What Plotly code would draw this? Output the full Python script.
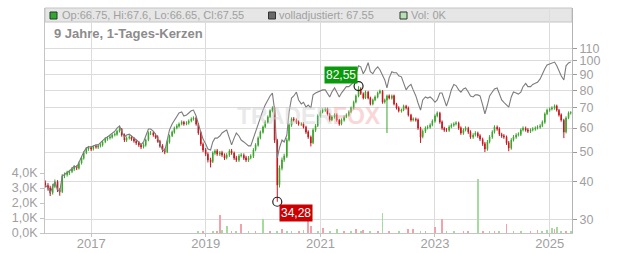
import numpy as np
import pandas as pd
import plotly.graph_objects as go

# ---------------- data (semi-monthly candles) ----------------
close = [
    38.9, 38.0, 36.6, 38.6, 39.8, 37.5, 36.9, 41.7, 42.0, 42.7,
    43.0, 44.0, 44.6, 44.3, 45.9, 47.8, 49.7, 51.2, 51.6, 51.2,
    52.0, 52.0, 52.4, 52.8, 54.0, 55.2, 55.6, 56.1, 56.9, 57.3,
    58.6, 59.6, 56.9, 54.8, 55.6, 56.1, 55.2, 54.4, 53.6, 52.8,
    52.0, 52.8, 54.8, 57.8, 57.8, 56.9, 56.1, 54.4, 52.4, 50.8,
    50.0, 54.0, 56.5, 58.2, 60.0, 61.0, 61.9, 62.8, 61.9, 62.4,
    63.3, 64.3, 64.8, 61.9, 57.8, 53.2, 50.8, 49.3, 47.1, 46.4,
    49.7, 50.4, 49.3, 49.7, 48.9, 47.8, 48.9, 50.4, 49.7, 47.8,
    47.1, 48.5, 48.9, 47.8, 47.1, 47.8, 48.5, 50.8, 52.8, 55.6,
    58.2, 60.5, 62.8, 65.3, 68.4, 69.9, 54.8, 38.9, 44.3, 47.1,
    48.5, 54.8, 61.4, 64.3, 63.8, 62.8, 61.9, 61.9, 60.5, 58.2,
    56.1, 53.6, 59.1, 61.0, 65.8, 67.8, 68.8, 69.3, 66.8, 63.8,
    65.3, 66.3, 63.8, 61.9, 63.8, 65.3, 66.3, 67.8, 69.9, 73.0,
    76.6, 80.8, 78.0, 75.4, 78.9, 75.4, 72.1, 74.3, 76.0, 78.3,
    79.5, 73.0, 74.3, 76.6, 75.4, 76.6, 72.1, 69.9, 68.4, 68.8,
    70.9, 69.9, 66.3, 63.8, 64.3, 63.8, 60.0, 56.1, 58.6, 60.0,
    60.5, 61.4, 63.3, 65.8, 67.3, 62.8, 60.0, 59.1, 59.1, 60.5,
    61.4, 61.9, 62.4, 60.0, 57.8, 59.1, 60.0, 58.2, 56.1, 56.9,
    57.8, 56.5, 55.2, 53.2, 51.2, 54.0, 56.1, 58.2, 60.5, 59.6,
    57.3, 56.5, 56.1, 53.6, 51.6, 54.8, 56.1, 56.9, 57.3, 59.1,
    60.0, 59.1, 58.6, 59.1, 59.6, 60.0, 60.5, 61.0, 62.8, 66.8,
    68.8, 69.3, 69.9, 70.9, 68.8, 66.3, 63.8, 58.2, 64.8, 67.3,
    67.55,
]
open_ = [
    39.5, 38.8, 38.1, 36.7, 38.5, 39.9, 37.4, 37.0, 41.8, 42.1,
    42.6, 43.1, 43.9, 44.7, 44.2, 46.0, 47.7, 49.8, 51.1, 51.7,
    51.3, 52.2, 51.9, 52.5, 52.7, 54.1, 55.1, 55.7, 56.0, 57.0,
    57.2, 58.7, 59.5, 57.0, 54.7, 55.7, 56.0, 55.3, 54.3, 53.7,
    52.7, 52.1, 52.7, 54.9, 57.7, 57.9, 56.8, 56.2, 54.3, 52.5,
    50.7, 50.1, 53.9, 56.6, 58.1, 60.1, 60.9, 62.0, 62.7, 62.0,
    62.3, 63.4, 64.2, 64.9, 61.8, 57.9, 53.1, 50.9, 49.2, 47.2,
    46.5, 49.6, 50.5, 49.2, 49.8, 48.8, 47.9, 48.8, 50.5, 49.6,
    47.9, 47.0, 48.6, 48.8, 47.9, 47.0, 47.9, 48.4, 50.9, 52.7,
    55.7, 58.1, 60.6, 62.7, 65.4, 68.3, 70.0, 54.6, 39.0, 44.2,
    47.2, 48.4, 54.9, 61.3, 64.4, 63.7, 62.9, 61.8, 62.0, 60.4,
    58.3, 56.0, 53.7, 59.0, 61.1, 65.7, 67.9, 68.7, 69.4, 66.7,
    63.9, 65.2, 66.4, 63.7, 62.0, 63.7, 65.4, 66.2, 67.9, 69.8,
    73.1, 76.5, 80.9, 77.9, 75.5, 78.8, 75.5, 72.0, 74.4, 75.9,
    78.4, 79.4, 73.1, 74.2, 76.7, 75.3, 76.7, 72.0, 70.0, 68.3,
    68.9, 70.8, 70.0, 66.2, 63.9, 64.2, 63.9, 59.9, 56.2, 58.5,
    60.1, 60.4, 61.5, 63.2, 65.9, 67.2, 62.9, 59.9, 59.2, 59.0,
    60.6, 61.3, 62.0, 62.3, 60.1, 57.7, 59.2, 59.9, 58.3, 56.0,
    57.0, 57.7, 56.6, 55.1, 53.3, 51.1, 54.1, 56.0, 58.3, 60.4,
    59.7, 57.2, 56.6, 56.0, 53.7, 51.5, 54.9, 56.0, 57.0, 57.2,
    59.2, 59.9, 59.2, 58.5, 59.2, 59.5, 60.1, 60.4, 61.1, 62.7,
    66.9, 68.7, 69.4, 69.8, 71.0, 68.7, 66.4, 63.7, 58.3, 64.9,
    67.2,
]
high = [
    40.3, 39.5, 38.7, 39.3, 40.6, 40.4, 38.0, 42.3, 42.8, 43.4,
    43.7, 44.6, 45.3, 45.2, 46.5, 48.4, 50.3, 51.9, 52.4, 52.3,
    52.7, 52.9, 53.1, 53.5, 54.6, 55.9, 56.4, 56.9, 57.6, 58.1,
    59.3, 60.6, 60.0, 57.6, 56.3, 56.9, 56.7, 56.0, 55.0, 54.3,
    53.4, 53.5, 55.4, 58.5, 58.7, 58.5, 57.5, 56.8, 54.9, 53.1,
    51.4, 54.7, 57.1, 58.9, 60.7, 61.8, 62.6, 63.6, 63.4, 63.2,
    64.1, 65.1, 65.6, 65.5, 62.4, 58.5, 53.8, 51.6, 49.9, 47.9,
    50.3, 51.1, 51.2, 50.4, 50.5, 49.5, 49.6, 51.1, 51.2, 50.2,
    48.6, 49.2, 49.6, 49.5, 48.6, 48.5, 49.2, 51.5, 53.5, 56.3,
    58.9, 61.2, 63.6, 66.1, 69.2, 70.8, 70.6, 55.3, 45.2, 48.0,
    49.4, 55.6, 62.2, 65.1, 65.2, 64.5, 63.6, 62.7, 62.7, 61.1,
    59.0, 56.7, 59.9, 61.8, 66.6, 68.6, 69.7, 70.2, 70.1, 67.4,
    66.1, 67.1, 67.1, 64.4, 64.6, 66.1, 67.1, 68.6, 70.7, 73.9,
    77.5, 82.55, 81.8, 78.7, 79.8, 79.6, 76.2, 75.1, 76.9, 79.2,
    80.4, 80.1, 75.1, 77.4, 77.5, 77.4, 77.4, 72.7, 70.8, 69.6,
    71.7, 71.6, 70.7, 66.9, 65.1, 65.0, 64.6, 60.6, 59.4, 60.8,
    61.3, 62.2, 64.1, 66.6, 68.1, 67.9, 63.6, 60.6, 60.0, 61.3,
    62.2, 62.7, 63.2, 63.0, 60.8, 59.9, 60.8, 60.6, 59.0, 57.7,
    58.6, 58.4, 57.3, 55.8, 54.0, 54.8, 56.9, 59.0, 61.3, 61.2,
    60.4, 57.9, 57.3, 56.7, 54.4, 55.6, 56.9, 57.7, 58.1, 59.9,
    60.8, 60.7, 60.0, 59.9, 60.4, 60.8, 61.3, 61.8, 63.6, 67.6,
    69.6, 70.2, 70.8, 71.8, 71.7, 69.4, 67.1, 64.4, 65.6, 68.1,
    68.2,
]
low = [
    38.2, 37.3, 35.8, 36.2, 38.0, 36.9, 35.9, 36.6, 41.0, 41.5,
    42.0, 42.6, 43.3, 43.6, 43.8, 45.5, 47.2, 49.2, 50.5, 50.4,
    50.6, 51.3, 51.2, 51.8, 52.1, 53.5, 54.5, 55.0, 55.4, 56.3,
    56.6, 58.0, 56.2, 54.0, 54.0, 55.0, 54.5, 53.7, 52.8, 52.0,
    51.2, 51.4, 52.1, 54.3, 56.9, 56.2, 55.3, 53.7, 51.7, 50.0,
    49.2, 49.6, 53.3, 56.0, 57.5, 59.4, 60.2, 61.3, 61.1, 61.3,
    61.6, 62.7, 63.5, 61.1, 57.0, 52.4, 50.0, 48.5, 46.2, 44.5,
    46.0, 49.0, 48.6, 48.5, 48.2, 47.1, 47.3, 48.2, 49.0, 47.1,
    46.4, 46.4, 48.0, 47.1, 46.4, 46.4, 47.3, 47.8, 50.3, 52.1,
    55.1, 57.5, 60.0, 62.1, 64.8, 67.6, 53.6, 34.28, 38.2, 43.5,
    46.4, 47.8, 54.2, 60.6, 63.0, 62.0, 61.1, 61.0, 59.8, 57.4,
    55.3, 52.2, 53.1, 58.3, 60.5, 65.0, 67.1, 67.9, 66.0, 63.0,
    63.2, 64.5, 63.0, 61.1, 61.3, 63.0, 64.7, 65.5, 67.2, 69.1,
    72.4, 75.8, 77.2, 74.6, 74.8, 74.6, 71.3, 71.3, 73.6, 75.2,
    77.6, 72.2, 72.3, 57.8, 74.6, 74.5, 71.3, 69.1, 67.6, 67.5,
    68.2, 69.1, 65.5, 63.0, 63.1, 63.0, 59.2, 53.6, 55.5, 57.8,
    59.4, 59.7, 60.8, 62.5, 65.1, 62.0, 59.2, 58.3, 58.3, 58.3,
    59.9, 60.6, 61.2, 59.2, 57.0, 57.0, 58.5, 57.4, 55.3, 55.3,
    56.3, 55.7, 54.4, 52.4, 50.0, 50.5, 53.4, 55.3, 57.6, 58.8,
    56.5, 55.7, 55.3, 52.8, 50.3, 50.9, 54.2, 55.3, 56.3, 56.5,
    58.5, 58.4, 57.8, 57.8, 58.5, 58.8, 59.4, 59.7, 60.4, 62.0,
    66.2, 67.9, 68.6, 69.0, 68.0, 65.5, 63.0, 55.6, 57.6, 64.2,
    66.5,
]
adjusted = [
    38.9, 38.1, 36.7, 38.7, 39.9, 37.6, 37.0, 41.8, 42.1, 42.9,
    43.2, 44.2, 44.9, 44.6, 46.3, 48.2, 50.0, 51.6, 52.0, 52.0,
    52.4, 52.8, 52.8, 53.6, 54.8, 55.6, 56.1, 56.9, 57.8, 58.6,
    60.0, 61.0, 58.6, 56.1, 56.9, 57.3, 56.5, 55.6, 54.8, 54.0,
    52.8, 54.0, 56.5, 59.6, 59.6, 58.6, 57.3, 55.2, 52.8, 50.8,
    50.4, 54.8, 59.1, 61.9, 63.8, 65.8, 67.3, 67.8, 65.8, 66.3,
    67.3, 68.4, 68.8, 65.8, 61.9, 57.8, 55.2, 53.2, 51.2, 50.8,
    54.0, 55.6, 55.6, 56.5, 57.8, 58.6, 59.1, 55.6, 52.8, 55.6,
    57.8, 56.5, 54.8, 54.0, 53.2, 52.4, 52.4, 55.6, 59.1, 61.9,
    64.8, 68.8, 71.5, 74.3, 76.6, 78.3, 68.8, 47.8, 51.6, 54.8,
    54.0, 56.9, 67.8, 75.4, 76.6, 78.9, 74.3, 72.1, 73.0, 70.4,
    71.5, 69.9, 77.2, 78.3, 78.9, 79.5, 80.2, 80.2, 78.3, 76.0,
    78.9, 81.4, 78.9, 76.0, 78.3, 80.8, 82.2, 82.2, 83.6, 85.0,
    90.7, 96.3, 95.6, 90.7, 93.5, 98.7, 92.1, 90.7, 93.5, 95.6,
    93.5, 89.3, 86.5, 81.4, 87.9, 92.1, 91.4, 91.4, 89.3, 88.6,
    85.0, 80.2, 82.2, 83.6, 80.2, 76.6, 72.6, 68.8, 74.3, 76.0,
    75.4, 76.0, 74.9, 73.0, 74.3, 78.3, 78.3, 74.3, 70.9, 75.4,
    80.2, 83.6, 82.9, 80.2, 78.9, 80.8, 81.4, 78.9, 76.6, 76.0,
    77.2, 77.2, 76.6, 71.5, 66.8, 71.5, 76.6, 78.9, 80.8, 81.4,
    77.2, 74.3, 73.0, 71.5, 70.4, 76.0, 78.9, 78.3, 77.7, 78.9,
    82.2, 84.3, 82.2, 82.2, 83.6, 84.3, 85.0, 87.2, 90.7, 94.2,
    97.0, 97.7, 98.4, 99.1, 96.3, 92.1, 89.3, 86.5, 96.3, 98.4,
    99.1,
]
# volume (thousands), given at candle positions
vol_idx = [64, 66, 70, 72, 73, 74, 76, 78, 80, 82, 85, 88, 91, 94, 97, 99, 101, 103,
           106, 108, 110, 111, 114, 116, 119, 122, 125, 128, 130, 132, 133, 136, 139,
           141, 144, 148, 152, 154, 157, 159, 163, 166, 168, 171, 175, 177, 181, 183,
           186, 188, 190, 193, 196, 199, 203, 206, 208, 210, 212, 213, 214, 216, 218, 220]
vol_k = [0.1, 0.12, 0.1, 0.15, 1.2, 0.2, 0.45, 0.1, 0.15, 0.6, 0.1, 0.15, 0.95, 0.1,
         0.15, 0.25, 0.1, 0.15, 0.1, 0.2, 0.9, 0.5, 0.1, 0.35, 0.15, 0.3, 0.1, 0.15,
         0.25, 0.1, 0.2, 0.15, 0.15, 1.35, 0.1, 0.1, 0.3, 0.25, 0.1, 0.1, 0.4, 0.95,
         0.15, 0.1, 0.1, 0.15, 3.6, 0.1, 0.1, 0.1, 0.1, 0.6, 0.1, 0.15, 0.1, 0.2, 0.1,
         0.2, 0.35, 0.25, 0.4, 0.15, 0.1, 0.15]
vol_up = [1, 0, 1, 0, 0, 1, 1, 0, 1, 0, 1, 0, 1, 0, 1, 0, 1, 1, 0, 1, 0, 0, 1, 0, 1, 1,
          0, 1, 0, 1, 0, 1, 0, 1, 0, 1, 0, 0, 1, 0, 0, 0, 1, 1, 0, 0, 1, 0, 1, 0, 1, 0,
          1, 1, 0, 0, 1, 1, 1, 0, 1, 1, 0, 1]

dates = pd.date_range("2016-03-15", periods=len(close), freq="SMS")

year_ticks = ["2017-01-01", "2019-01-01", "2021-01-01", "2023-01-01", "2025-01-01"]
year_labels = ["2017", "2019", "2021", "2023", "2025"]
price_ticks = [30, 40, 50, 60, 70, 80, 90, 100, 110]
vol_ticks = [0, 1, 2, 3, 4]
vol_labels = ["0,0K", "1,0K", "2,0K", "3,0K", "4,0K"]
hi_idx, lo_idx = 131, 97
hi_val, lo_val = 82.55, 34.28

# ---------------- layout geometry ----------------
W, H = 632, 253
ML, MR, MT, MB = 45, 60, 8, 20
PW, PH = W - ML - MR, H - MT - MB


def px(x):
    return (x - ML) / PW


def py(y):
    return (H - MB - y) / PH


FONT = "Liberation Sans, Arial, sans-serif"
GREEN, RED = "#3aa42c", "#c8141c"
GRID = "#dcdcdc"
AX = "#c4c4c4"
TXT = "#a0a0a0"

fig = go.Figure()

vdates = [dates[i] for i in vol_idx]
fig.add_trace(go.Bar(
    x=vdates, y=vol_k, xaxis="x", yaxis="y",
    marker=dict(color=["#a6dba0" if u else "#f2a3aa" for u in vol_up], line=dict(width=0)),
    width=5 * 86400000, hoverinfo="skip", showlegend=False,
))

fig.add_trace(go.Scatter(
    x=dates, y=adjusted, xaxis="x", yaxis="y2", mode="lines",
    line=dict(color="#7c7c7c", width=1.1), hoverinfo="skip", showlegend=False,
))

fig.add_trace(go.Candlestick(
    x=dates, open=open_, high=high, low=low, close=close, xaxis="x", yaxis="y2",
    increasing=dict(line=dict(color=GREEN, width=1), fillcolor=GREEN),
    decreasing=dict(line=dict(color=RED, width=1), fillcolor=RED),
    whiskerwidth=0, hoverinfo="skip", showlegend=False,
))

fig.add_trace(go.Scatter(
    x=[dates[hi_idx], dates[lo_idx]], y=[hi_val, lo_val], xaxis="x", yaxis="y2",
    mode="markers",
    marker=dict(symbol="circle-open", size=9, color="#222222", line=dict(width=1.2)),
    hoverinfo="skip", showlegend=False,
))

annotations = [
    dict(xref="x", yref="y2", x=dates[hi_idx], y=np.log10(hi_val),
         text="82,55", showarrow=False, bgcolor="#0b9a0b", borderpad=1,
         font=dict(family=FONT, size=12, color="white"), xshift=-18, yshift=11),
    dict(xref="x", yref="y2", x=dates[lo_idx], y=np.log10(lo_val),
         text="34,28", showarrow=False, bgcolor="#cc0000", borderpad=1,
         font=dict(family=FONT, size=12, color="white"), xshift=19, yshift=-11),
    dict(xref="paper", yref="paper", x=px(52), y=py(33), xanchor="left", yanchor="middle",
         text="<b>9 Jahre, 1-Tages-Kerzen</b>", showarrow=False,
         font=dict(family=FONT, size=13, color="#8c8c8c")),
    dict(xref="paper", yref="paper", x=px(60), y=py(15.5), xanchor="left", yanchor="middle",
         text="Op:66.75, Hi:67.6, Lo:66.65, Cl:67.55", showarrow=False,
         font=dict(family=FONT, size=11, color=TXT)),
    dict(xref="paper", yref="paper", x=px(277), y=py(15.5), xanchor="left", yanchor="middle",
         text="volladjustiert: 67.55", showarrow=False,
         font=dict(family=FONT, size=11, color=TXT)),
    dict(xref="paper", yref="paper", x=px(409), y=py(15.5), xanchor="left", yanchor="middle",
         text="Vol: 0K", showarrow=False,
         font=dict(family=FONT, size=11, color=TXT)),
    dict(xref="paper", yref="paper", x=px(309), y=py(116), xanchor="center", yanchor="middle",
         text="<b><span style='color:#d0d0d0'>TRADER</span><span style='color:#f3a8a8'>FOX</span></b>",
         showarrow=False, opacity=0.45, font=dict(family=FONT, size=23)),
]

shapes = [
    dict(type="rect", xref="paper", yref="paper", x0=0, x1=1, y0=py(22), y1=1,
         fillcolor="#e6e6e6", line=dict(color=AX, width=1), layer="below"),
    dict(type="rect", xref="paper", yref="paper", x0=px(50), x1=px(57), y0=py(19), y1=py(12),
         fillcolor="#34a534", line=dict(color="#1f3f1f", width=1)),
    dict(type="rect", xref="paper", yref="paper", x0=px(268.5), x1=px(275.5), y0=py(19), y1=py(12),
         fillcolor="#6a6a6a", line=dict(color="#333333", width=1)),
    dict(type="rect", xref="paper", yref="paper", x0=px(400), x1=px(407), y0=py(19), y1=py(12),
         fillcolor="#b4e2b0", line=dict(color="#333333", width=1)),
]

fig.update_layout(
    width=W, height=H, margin=dict(l=ML, r=MR, t=MT, b=MB, pad=0, autoexpand=False),
    paper_bgcolor="white", plot_bgcolor="white",
    showlegend=False, bargap=0, boxgap=0.6,
    font=dict(family=FONT, size=13, color=TXT),
    xaxis=dict(
        type="date", range=["2016-03-13", "2025-05-23"], automargin=False,
        tickmode="array", tickvals=year_ticks, ticktext=year_labels,
        showgrid=True, gridcolor=GRID, gridwidth=1,
        ticks="outside", ticklen=3, tickcolor=AX, ticklabelstandoff=-5,
        showline=True, linecolor=AX, linewidth=1,
        tickfont=dict(family=FONT, size=13, color=TXT),
        rangeslider=dict(visible=False), zeroline=False,
    ),
    yaxis=dict(
        range=[0, 15], side="left", automargin=False,
        tickmode="array", tickvals=vol_ticks, ticktext=vol_labels,
        showgrid=False, zeroline=False,
        ticks="outside", ticklen=4, tickcolor=AX,
        showline=True, linecolor=AX, linewidth=1,
        tickfont=dict(family=FONT, size=12.5, color=TXT),
    ),
    yaxis2=dict(
        type="log", range=[1.4319, 2.1745], overlaying="y", side="right", automargin=False,
        tickmode="array", tickvals=price_ticks, ticktext=[str(v) for v in price_ticks],
        showgrid=True, gridcolor=GRID, gridwidth=1, zeroline=False,
        ticks="outside", ticklen=4, tickcolor="#9a9a9a",
        showline=True, linecolor="#b4b4b4", linewidth=1,
        tickfont=dict(family=FONT, size=12.5, color=TXT),
    ),
    annotations=annotations,
    shapes=shapes,
)

fig.write_html("out.html")
